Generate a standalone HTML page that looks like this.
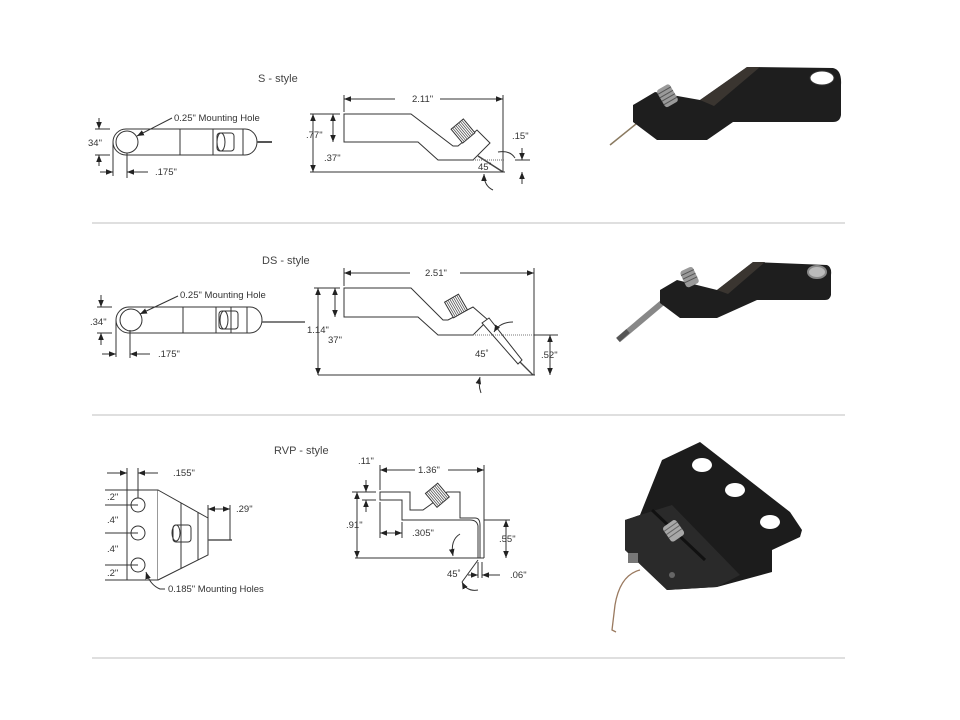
<!DOCTYPE html>
<html><head><meta charset="utf-8"><style>
html,body{margin:0;padding:0;background:#fff;}
svg{display:block;}
text{font-family:"Liberation Sans",sans-serif;fill:#333;font-size:9.5px;}
.t{font-size:11px;fill:#444;}
.l{stroke:#333;stroke-width:1;fill:none;}
.b{stroke:#333;stroke-width:1;fill:#fff;}
</style></head><body>
<svg width="960" height="720" viewBox="0 0 960 720" xmlns="http://www.w3.org/2000/svg">
<defs>
<marker id="a" viewBox="0 0 10 10" refX="10" refY="5" markerWidth="7" markerHeight="7" orient="auto-start-reverse"><path d="M0,1 L10,5 L0,9 z" fill="#222"/></marker>
</defs>
<g stroke="#ccc" stroke-width="1.2">
<line x1="92" y1="223" x2="845" y2="223"/><line x1="92" y1="415" x2="845" y2="415"/><line x1="92" y1="658" x2="845" y2="658"/>
</g>

<!-- ========== S-style ========== -->
<text class="t" x="258" y="82">S - style</text>
<path class="b" d="M126,129 H245 A12,13 0 0 1 245,155 H126 A13,13 0 0 1 126,129 z"/>
<circle class="l" cx="127" cy="142" r="11"/>
<line class="l" x1="180" y1="129" x2="180" y2="155"/><line class="l" x1="213" y1="129" x2="213" y2="155"/><line class="l" x1="243" y1="129" x2="243" y2="155"/>
<rect class="l" x="217" y="133" width="17" height="18" rx="3"/><ellipse class="l" cx="221" cy="142" rx="4" ry="9"/>
<line x1="257" y1="142" x2="272" y2="142" stroke="#555" stroke-width="2"/>
<line class="l" x1="95" y1="129" x2="110" y2="129"/><line class="l" x1="95" y1="155" x2="110" y2="155"/>
<line class="l" x1="99" y1="118" x2="99" y2="129" marker-end="url(#a)"/><line class="l" x1="99" y1="166" x2="99" y2="155" marker-end="url(#a)"/>
<text x="88" y="146">34"</text>
<line class="l" x1="113" y1="142" x2="113" y2="176"/><line class="l" x1="127" y1="153" x2="127" y2="178"/>
<line class="l" x1="100" y1="172" x2="113" y2="172" marker-end="url(#a)"/><line class="l" x1="148" y1="172" x2="127" y2="172" marker-end="url(#a)"/>
<text x="155" y="175">.175"</text>
<text x="174" y="121">0.25" Mounting Hole</text>
<line class="l" x1="172" y1="118" x2="137" y2="136" marker-end="url(#a)"/>
<path class="b" d="M344,114 H411 L453,146 H458 L477,130 L490,143 L473,160 H438 L418,142 H344 z"/>
<g transform="rotate(-40 463 131)"><rect x="455" y="122" width="16" height="18" fill="#fff" stroke="#333"/>
<path d="M457,122v18M459,122v18M461,122v18M463,122v18M465,122v18M467,122v18M469,122v18" stroke="#555" stroke-width="0.8"/></g>
<line x1="478" y1="156" x2="503" y2="172" stroke="#444" stroke-width="1.5"/>
<line class="l" x1="310" y1="172" x2="505" y2="172"/>
<line class="l" x1="503" y1="95" x2="503" y2="172"/><line class="l" x1="344" y1="95" x2="344" y2="112"/>
<line class="l" x1="395" y1="99" x2="344" y2="99" marker-end="url(#a)"/><line class="l" x1="440" y1="99" x2="503" y2="99" marker-end="url(#a)"/>
<text x="412" y="102">2.11"</text>
<line class="l" x1="310" y1="114" x2="340" y2="114"/>
<line class="l" x1="313" y1="114" x2="313" y2="172" marker-start="url(#a)" marker-end="url(#a)"/>
<line class="l" x1="333" y1="114" x2="333" y2="142" marker-start="url(#a)" marker-end="url(#a)"/>
<text x="306" y="138">.77"</text><text x="324" y="161">.37"</text>
<line x1="473" y1="160" x2="505" y2="160" stroke="#666" stroke-dasharray="1,1"/>
<line class="l" x1="515" y1="160" x2="530" y2="160"/>
<line class="l" x1="522" y1="148" x2="522" y2="160" marker-end="url(#a)"/><line class="l" x1="522" y1="184" x2="522" y2="172" marker-end="url(#a)"/>
<text x="512" y="139">.15"</text><text x="478" y="170">45˚</text>
<path class="l" d="M498,152 Q510,150 515,158" /><path class="l" d="M493,190 Q484,186 484,174" marker-end="url(#a)"/>
<!-- S photo -->
<line x1="636" y1="124" x2="610" y2="145" stroke="#8a7a60" stroke-width="1.5"/>
<path d="M633,105 L655,92 L700,100 L747,67 L833,68 Q842,70 841,85 L841,115 Q840,122 833,122 L733,122 L707,140 L657,140 L633,122 z" fill="#1e1e1e"/>
<path d="M700,100 L747,67 L760,67 L714,106 z" fill="#3a3530"/>
<ellipse cx="822" cy="78" rx="12" ry="7" fill="#fff" stroke="#333"/>
<g transform="rotate(-30 667 96)"><rect x="660" y="86" width="15" height="20" rx="3" fill="#9a9a9a"/>
<path d="M660,90h15M660,94h15M660,98h15M660,102h15" stroke="#555"/></g>

<!-- ========== DS-style ========== -->
<text class="t" x="262" y="264">DS - style</text>
<path class="b" d="M129,307 H250 A12,13 0 0 1 250,333 H129 A13,13 0 0 1 129,307 z"/>
<circle class="l" cx="131" cy="320" r="11"/>
<line class="l" x1="183" y1="307" x2="183" y2="333"/><line class="l" x1="216" y1="307" x2="216" y2="333"/><line class="l" x1="231" y1="307" x2="231" y2="333"/><line class="l" x1="247" y1="307" x2="247" y2="333"/>
<rect class="l" x="219" y="311" width="19" height="18" rx="3"/><ellipse class="l" cx="224" cy="320" rx="4" ry="9"/>
<line x1="262" y1="322" x2="305" y2="322" stroke="#555" stroke-width="1.5"/>
<line class="l" x1="97" y1="307" x2="112" y2="307"/><line class="l" x1="97" y1="333" x2="112" y2="333"/>
<line class="l" x1="101" y1="295" x2="101" y2="307" marker-end="url(#a)"/><line class="l" x1="101" y1="345" x2="101" y2="333" marker-end="url(#a)"/>
<text x="90" y="325">.34"</text>
<line class="l" x1="116" y1="320" x2="116" y2="357"/><line class="l" x1="130" y1="330" x2="130" y2="358"/>
<line class="l" x1="102" y1="354" x2="116" y2="354" marker-end="url(#a)"/><line class="l" x1="150" y1="354" x2="130" y2="354" marker-end="url(#a)"/>
<text x="158" y="357">.175"</text>
<text x="180" y="298">0.25" Mounting Hole</text>
<line class="l" x1="178" y1="296" x2="140" y2="314" marker-end="url(#a)"/>
<path class="b" d="M344,288 H411 L443,320 H448 L473,307 L488,320 L473,335 H438 L418,317 H344 z"/>
<g transform="rotate(-30 456 306)"><rect x="448" y="297" width="16" height="18" fill="#fff" stroke="#333"/>
<path d="M450,297v18M452,297v18M454,297v18M456,297v18M458,297v18M460,297v18M462,297v18" stroke="#555" stroke-width="0.8"/></g>
<path class="b" d="M482,323 L489,318 L522,360 L518,364 z"/>
<line x1="520" y1="362" x2="533" y2="375" stroke="#444" stroke-width="1.3"/>
<line class="l" x1="318" y1="375" x2="535" y2="375"/>
<line class="l" x1="534" y1="268" x2="534" y2="375"/><line class="l" x1="344" y1="268" x2="344" y2="286"/>
<line class="l" x1="410" y1="273" x2="344" y2="273" marker-end="url(#a)"/><line class="l" x1="460" y1="273" x2="534" y2="273" marker-end="url(#a)"/>
<text x="425" y="276">2.51"</text>
<line class="l" x1="314" y1="288" x2="340" y2="288"/>
<line class="l" x1="318" y1="288" x2="318" y2="375" marker-start="url(#a)" marker-end="url(#a)"/>
<line class="l" x1="335" y1="288" x2="335" y2="317" marker-start="url(#a)" marker-end="url(#a)"/>
<text x="307" y="333">1.14"</text><text x="328" y="343">37"</text>
<line x1="473" y1="335" x2="534" y2="335" stroke="#777" stroke-dasharray="1,1"/>
<line class="l" x1="534" y1="335" x2="558" y2="335"/>
<line class="l" x1="550" y1="335" x2="550" y2="375" marker-start="url(#a)" marker-end="url(#a)"/>
<text x="541" y="358">.52"</text><text x="475" y="357">45˚</text>
<path class="l" d="M513,322 Q500,322 494,332" marker-end="url(#a)"/><path class="l" d="M481,393 Q478,385 480,377" marker-end="url(#a)"/>
<!-- DS photo -->
<line x1="662" y1="303" x2="618" y2="340" stroke="#888" stroke-width="6"/>
<line x1="628" y1="331" x2="618" y2="340" stroke="#555" stroke-width="5"/>
<path d="M660,290 L677,280 L717,290 L753,262 L827,265 Q832,267 831,275 L831,295 Q830,300 825,300 L757,300 L717,318 L680,318 L660,303 z" fill="#1e1e1e"/>
<path d="M717,290 L753,262 L765,262 L728,294 z" fill="#3a3530"/>
<ellipse cx="817" cy="272" rx="9" ry="6" fill="#bbb" stroke="#888" stroke-width="2"/>
<g transform="rotate(-25 690 278)"><rect x="683" y="268" width="14" height="18" rx="3" fill="#9a9a9a"/>
<path d="M683,272h14M683,276h14M683,280h14" stroke="#555"/></g>

<!-- ========== RVP-style ========== -->
<text class="t" x="274" y="454">RVP - style</text>
<rect class="b" x="127" y="490" width="31" height="90"/>
<path class="b" d="M158,490 L208,518 L208,555 L158,580"/>
<line class="l" x1="181" y1="503" x2="181" y2="568"/><line class="l" x1="198" y1="512" x2="198" y2="560"/>
<circle class="l" cx="138" cy="505" r="7"/><circle class="l" cx="138" cy="533" r="7"/><circle class="l" cx="138" cy="565" r="7"/>
<rect class="l" x="173" y="525" width="18" height="17" rx="3"/><ellipse class="l" cx="176" cy="533" rx="4" ry="8"/>
<line x1="208" y1="540" x2="232" y2="540" stroke="#555" stroke-width="1.5"/>
<line class="l" x1="127" y1="468" x2="127" y2="490"/><line class="l" x1="138" y1="468" x2="138" y2="498"/>
<line class="l" x1="107" y1="473" x2="127" y2="473" marker-end="url(#a)"/><line class="l" x1="158" y1="473" x2="138" y2="473" marker-end="url(#a)"/>
<text x="173" y="476">.155"</text>
<line class="l" x1="208" y1="505" x2="208" y2="518"/><line class="l" x1="230" y1="505" x2="230" y2="540"/>
<line class="l" x1="208" y1="509" x2="230" y2="509" marker-start="url(#a)" marker-end="url(#a)"/>
<text x="236" y="512">.29"</text>
<text x="107" y="500">.2"</text><text x="107" y="523">.4"</text><text x="107" y="552">.4"</text><text x="107" y="576">.2"</text>
<line class="l" x1="105" y1="505" x2="138" y2="505"/><line class="l" x1="105" y1="533" x2="138" y2="533"/><line class="l" x1="105" y1="565" x2="138" y2="565"/>
<line class="l" x1="105" y1="490" x2="127" y2="490"/><line class="l" x1="105" y1="580" x2="127" y2="580"/>
<text x="168" y="592">0.185" Mounting Holes</text>
<path class="l" d="M165,589 H160 Q150,585 146,572" marker-end="url(#a)"/>
<path class="b" d="M380,492 H410 V510 H423 L430,505 L447,492 H460 V518 H475 Q480,518 480,525 V558 H478 V526 Q477,520 470,520 H402 V500 H380 z"/>
<g transform="rotate(-40 438 496)"><rect x="430" y="486" width="16" height="18" fill="#fff" stroke="#333"/>
<path d="M432,486v18M434,486v18M436,486v18M438,486v18M440,486v18M442,486v18M444,486v18" stroke="#555" stroke-width="0.8"/></g>
<line class="l" x1="355" y1="558" x2="484" y2="558"/>
<line class="l" x1="484" y1="465" x2="484" y2="558"/><line class="l" x1="380" y1="465" x2="380" y2="490"/>
<line class="l" x1="415" y1="470" x2="380" y2="470" marker-end="url(#a)"/><line class="l" x1="448" y1="470" x2="484" y2="470" marker-end="url(#a)"/>
<text x="418" y="473">1.36"</text>
<line class="l" x1="352" y1="492" x2="376" y2="492"/><line class="l" x1="362" y1="500" x2="376" y2="500"/>
<line class="l" x1="366" y1="480" x2="366" y2="492" marker-end="url(#a)"/><line class="l" x1="366" y1="512" x2="366" y2="500" marker-end="url(#a)"/>
<text x="358" y="464">.11"</text>
<line class="l" x1="357" y1="492" x2="357" y2="558" marker-start="url(#a)" marker-end="url(#a)"/>
<text x="346" y="528">.91"</text>
<line class="l" x1="380" y1="502" x2="380" y2="538"/><line class="l" x1="402" y1="522" x2="402" y2="538"/>
<line class="l" x1="380" y1="533" x2="402" y2="533" marker-start="url(#a)" marker-end="url(#a)"/>
<text x="412" y="536">.305"</text>
<line class="l" x1="484" y1="520" x2="510" y2="520"/>
<line class="l" x1="506" y1="520" x2="506" y2="558" marker-start="url(#a)" marker-end="url(#a)"/>
<text x="499" y="542">.55"</text>
<line class="l" x1="478" y1="562" x2="478" y2="578"/><line class="l" x1="482" y1="562" x2="482" y2="578"/>
<line class="l" x1="468" y1="575" x2="478" y2="575" marker-end="url(#a)"/><line class="l" x1="500" y1="575" x2="482" y2="575" marker-end="url(#a)"/>
<text x="510" y="578">.06"</text><text x="447" y="577">45˚</text>
<line class="l" x1="478" y1="560" x2="462" y2="582"/>
<path class="l" d="M460,534 Q450,540 453,556" marker-end="url(#a)"/><path class="l" d="M478,590 Q467,592 462,582" marker-end="url(#a)"/>
<!-- RVP photo -->
<path d="M662,460 L700,442 L790,512 L802,530 L800,537 L772,550 L772,572 L717,587 L667,590 L625,550 L625,520 L640,515 z" fill="#1c1c1c"/>
<path d="M640,515 L672,505 L740,575 L717,587 L667,590 L625,550 L625,520 z" fill="#2a2a2a"/>
<path d="M652,510 L705,560" stroke="#111" stroke-width="3"/>
<ellipse cx="702" cy="465" rx="10" ry="7" fill="#fff"/><ellipse cx="735" cy="490" rx="10" ry="7" fill="#fff"/><ellipse cx="770" cy="522" rx="10" ry="7" fill="#fff"/>
<g transform="rotate(-35 673 530)"><rect x="665" y="522" width="16" height="18" rx="3" fill="#a8a8a8"/>
<path d="M665,526h16M665,530h16M665,534h16" stroke="#666"/></g>
<rect x="628" y="553" width="10" height="10" fill="#777"/>
<circle cx="672" cy="575" r="3" fill="#666"/>
<path d="M640,570 Q620,575 615,605 L612,630 L616,632" fill="none" stroke="#9a7a60" stroke-width="1.3"/>
</svg>
</body></html>
